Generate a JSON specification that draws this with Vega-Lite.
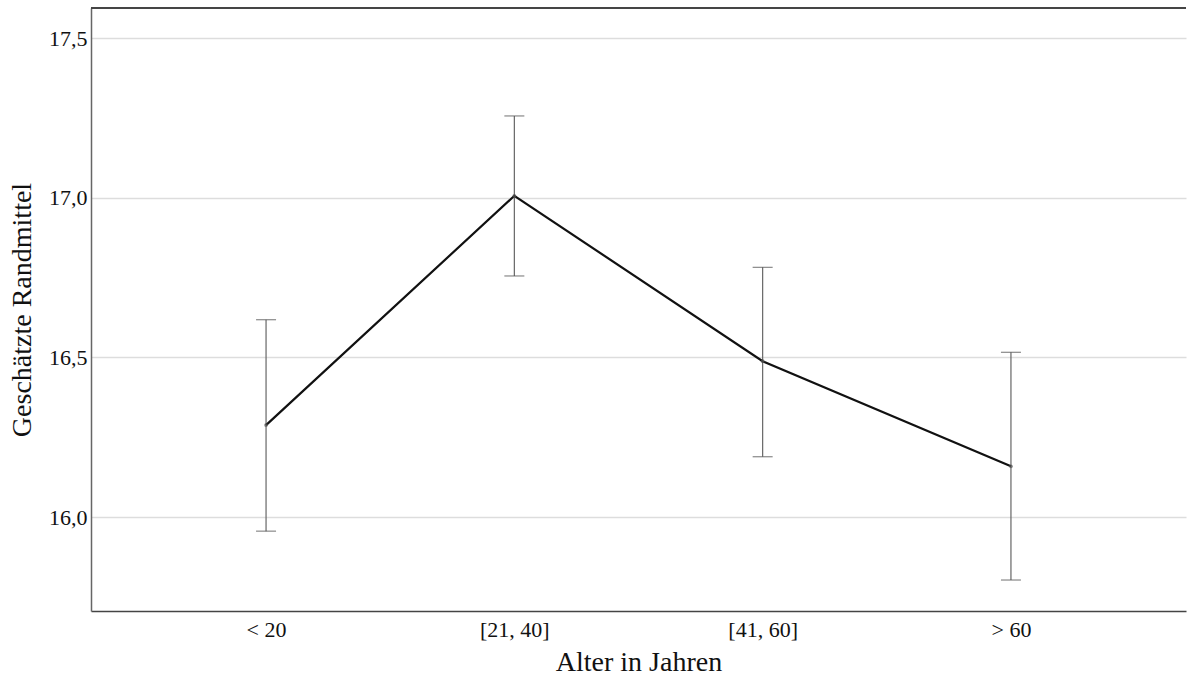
{
  "$schema": "https://vega.github.io/schema/vega-lite/v6.json",
  "autosize": "none",
  "width": 1095,
  "height": 603,
  "padding": {"left": 91, "top": 8, "right": 1, "bottom": 69},
  "background": "white",
  "config": {
    "view": {"stroke": null},
    "font": "Liberation Serif",
    "axis": {"labelFont": "Liberation Serif", "titleFont": "Liberation Serif", "labelColor": "#111", "titleColor": "#111", "titleFontWeight": "normal"}
  },
  "data": {
    "values": [
      {"alter": "< 20", "mittel": 16.288, "lo": 15.956, "hi": 16.618},
      {"alter": "[21, 40]", "mittel": 17.006, "lo": 16.755, "hi": 17.256},
      {"alter": "[41, 60]", "mittel": 16.488, "lo": 16.189, "hi": 16.782},
      {"alter": "> 60", "mittel": 16.159, "lo": 15.803, "hi": 16.516}
    ]
  },
  "layer": [
    {
      "mark": {"type": "rule", "color": "#666", "strokeWidth": 1.2},
      "encoding": {
        "x": {
          "field": "alter",
          "type": "ordinal",
          "sort": null,
          "scale": {"type": "point", "padding": 0.705},
          "axis": {"title": "Alter in Jahren", "labelAngle": 0, "labelFontSize": 22, "titleFontSize": 28, "ticks": false, "labelPadding": 8, "titlePadding": 8, "domainColor": "#444", "domainWidth": 1.5, "grid": false}
        },
        "y": {
          "field": "lo",
          "type": "quantitative",
          "scale": {"domain": [15.706, 17.594], "nice": false, "zero": false},
          "axis": {"title": "Geschätzte Randmittel", "values": [16.0, 16.5, 17.0, 17.5], "labelExpr": "replace(format(datum.value, '.1f'), '.', ',')", "labelFontSize": 22, "titleFontSize": 28, "ticks": false, "labelPadding": 4, "titlePadding": 12, "domainColor": "#666", "domainWidth": 1.5, "grid": true, "gridColor": "#dddddd", "gridWidth": 1.5}
        },
        "y2": {"field": "hi"}
      }
    },
    {
      "mark": {"type": "tick", "color": "#555", "size": 20, "thickness": 1.2},
      "encoding": {
        "x": {"field": "alter", "type": "ordinal", "sort": null},
        "y": {"field": "hi", "type": "quantitative"}
      }
    },
    {
      "mark": {"type": "tick", "color": "#555", "size": 20, "thickness": 1.2},
      "encoding": {
        "x": {"field": "alter", "type": "ordinal", "sort": null},
        "y": {"field": "lo", "type": "quantitative"}
      }
    },
    {
      "mark": {"type": "line", "color": "#111", "strokeWidth": 2.2},
      "encoding": {
        "x": {"field": "alter", "type": "ordinal", "sort": null},
        "y": {"field": "mittel", "type": "quantitative"}
      }
    },
    {
      "mark": {"type": "point", "filled": true, "color": "#555", "size": 14},
      "encoding": {
        "x": {"field": "alter", "type": "ordinal", "sort": null},
        "y": {"field": "mittel", "type": "quantitative"}
      }
    },
    {
      "mark": {"type": "rule", "color": "#444", "strokeWidth": 1.5},
      "encoding": {
        "y": {"datum": 17.594, "type": "quantitative"}
      }
    }
  ]
}
